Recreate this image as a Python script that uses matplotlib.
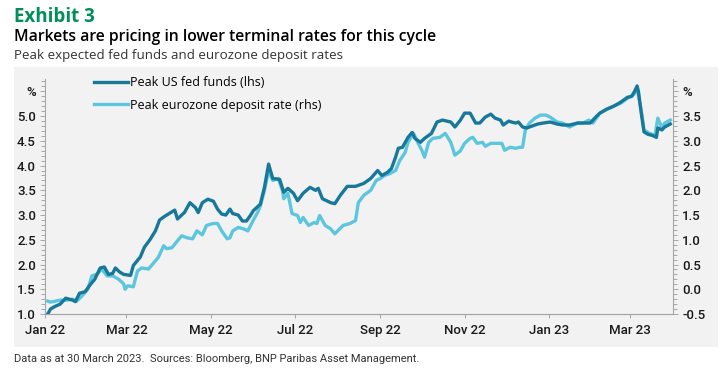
import matplotlib
matplotlib.use("Agg")
import matplotlib.pyplot as plt
import matplotlib.dates as mdates
from matplotlib.patches import Rectangle
from matplotlib.ticker import MultipleLocator, FixedLocator
import pandas as pd

# Peak US fed funds (lhs, %)
fed_dates = [
    "2022-01-03", "2022-01-05", "2022-01-08", "2022-01-12", "2022-01-16", "2022-01-21",
    "2022-01-23", "2022-01-26", "2022-01-30", "2022-02-03", "2022-02-06", "2022-02-10",
    "2022-02-13", "2022-02-16", "2022-02-19", "2022-02-21", "2022-02-24", "2022-02-27",
    "2022-03-04", "2022-03-06", "2022-03-11", "2022-03-14", "2022-03-18", "2022-03-22",
    "2022-03-25", "2022-03-29", "2022-04-02", "2022-04-05", "2022-04-07", "2022-04-10",
    "2022-04-12", "2022-04-16", "2022-04-20", "2022-04-22", "2022-04-25", "2022-04-29",
    "2022-05-03", "2022-05-06", "2022-05-09", "2022-05-12", "2022-05-15", "2022-05-17",
    "2022-05-21", "2022-05-24", "2022-05-27", "2022-05-30", "2022-06-01", "2022-06-06",
    "2022-06-09", "2022-06-12", "2022-06-15", "2022-06-20", "2022-06-23", "2022-06-26",
    "2022-06-30", "2022-07-03", "2022-07-07", "2022-07-12", "2022-07-16", "2022-07-18",
    "2022-07-21", "2022-07-27", "2022-07-30", "2022-08-03", "2022-08-08", "2022-08-14",
    "2022-08-20", "2022-08-25", "2022-08-30", "2022-09-02", "2022-09-06", "2022-09-09",
    "2022-09-12", "2022-09-14", "2022-09-17", "2022-09-21", "2022-09-24", "2022-09-26",
    "2022-09-30", "2022-10-03", "2022-10-08", "2022-10-12", "2022-10-16", "2022-10-22",
    "2022-10-25", "2022-10-29", "2022-11-01", "2022-11-05", "2022-11-09", "2022-11-12",
    "2022-11-16", "2022-11-20", "2022-11-23", "2022-11-27", "2022-11-29", "2022-12-03",
    "2022-12-05", "2022-12-08", "2022-12-10", "2022-12-13", "2022-12-16", "2022-12-20",
    "2022-12-24", "2022-12-28", "2023-01-02", "2023-01-07", "2023-01-11", "2023-01-16",
    "2023-01-22", "2023-01-26", "2023-01-31", "2023-02-04", "2023-02-07", "2023-02-12",
    "2023-02-17", "2023-02-22", "2023-02-27", "2023-03-02", "2023-03-04", "2023-03-06",
    "2023-03-07", "2023-03-09", "2023-03-11", "2023-03-14", "2023-03-17", "2023-03-20",
    "2023-03-21", "2023-03-24", "2023-03-26", "2023-03-30",
]
fed_values = [
    1.00, 1.10, 1.15, 1.20, 1.32, 1.28,
    1.25, 1.42, 1.45, 1.60, 1.70, 1.93,
    1.95, 1.80, 1.82, 1.93, 1.85, 1.80,
    1.78, 1.98, 2.15, 2.35, 2.50, 2.68,
    2.90, 2.98, 3.05, 3.10, 2.92, 3.00,
    3.05, 3.25, 3.15, 3.05, 3.25, 3.32,
    3.28, 3.12, 3.02, 3.00, 3.12, 3.03,
    3.00, 2.88, 2.88, 3.00, 3.09, 3.22,
    3.56, 4.03, 3.74, 3.72, 3.46, 3.54,
    3.44, 3.29, 3.44, 3.56, 3.50, 3.54,
    3.33, 3.25, 3.23, 3.40, 3.58, 3.58,
    3.64, 3.74, 3.90, 3.80, 3.86, 3.94,
    4.17, 4.35, 4.37, 4.57, 4.67, 4.55,
    4.47, 4.55, 4.65, 4.88, 4.92, 4.88,
    4.78, 4.92, 5.06, 5.06, 4.86, 4.86,
    4.98, 5.04, 4.96, 4.92, 4.82, 4.90,
    4.88, 4.86, 4.88, 4.78, 4.76, 4.80,
    4.84, 4.86, 4.88, 4.84, 4.82, 4.82,
    4.86, 4.86, 4.86, 4.98, 5.06, 5.14,
    5.20, 5.28, 5.38, 5.40, 5.49, 5.61,
    5.49, 5.06, 4.68, 4.63, 4.61, 4.57,
    4.76, 4.72, 4.78, 4.84,
]

# Peak eurozone deposit rate (rhs, %)
eur_dates = [
    "2022-01-03", "2022-01-05", "2022-01-12", "2022-01-17", "2022-01-21", "2022-01-24",
    "2022-01-28", "2022-02-01", "2022-02-04", "2022-02-08", "2022-02-11", "2022-02-15",
    "2022-02-19", "2022-02-23", "2022-02-27", "2022-02-28", "2022-03-02", "2022-03-06",
    "2022-03-09", "2022-03-12", "2022-03-17", "2022-03-20", "2022-03-24", "2022-03-28",
    "2022-03-30", "2022-04-03", "2022-04-07", "2022-04-10", "2022-04-14", "2022-04-18",
    "2022-04-21", "2022-04-25", "2022-04-28", "2022-05-03", "2022-05-06", "2022-05-09",
    "2022-05-13", "2022-05-15", "2022-05-17", "2022-05-21", "2022-05-25", "2022-05-28",
    "2022-06-01", "2022-06-04", "2022-06-06", "2022-06-09", "2022-06-12", "2022-06-15",
    "2022-06-19", "2022-06-22", "2022-06-23", "2022-06-26", "2022-06-29", "2022-07-03",
    "2022-07-05", "2022-07-07", "2022-07-11", "2022-07-15", "2022-07-17", "2022-07-19",
    "2022-07-23", "2022-07-27", "2022-07-30", "2022-08-01", "2022-08-05", "2022-08-10",
    "2022-08-14", "2022-08-16", "2022-08-20", "2022-08-25", "2022-08-29", "2022-09-01",
    "2022-09-04", "2022-09-08", "2022-09-12", "2022-09-15", "2022-09-19", "2022-09-21",
    "2022-09-25", "2022-09-28", "2022-10-01", "2022-10-03", "2022-10-06", "2022-10-09",
    "2022-10-14", "2022-10-18", "2022-10-22", "2022-10-25", "2022-10-29", "2022-11-01",
    "2022-11-05", "2022-11-07", "2022-11-10", "2022-11-14", "2022-11-16", "2022-11-20",
    "2022-11-24", "2022-11-28", "2022-11-30", "2022-12-04", "2022-12-08", "2022-12-11",
    "2022-12-13", "2022-12-15", "2022-12-18", "2022-12-22", "2022-12-26", "2022-12-30",
    "2023-01-02", "2023-01-07", "2023-01-11", "2023-01-16", "2023-01-22", "2023-01-26",
    "2023-01-30", "2023-02-02", "2023-02-07", "2023-02-12", "2023-02-17", "2023-02-22",
    "2023-02-27", "2023-03-03", "2023-03-06", "2023-03-09", "2023-03-11", "2023-03-15",
    "2023-03-19", "2023-03-21", "2023-03-24", "2023-03-26", "2023-03-30",
]
eur_values = [
    -0.24, -0.26, -0.22, -0.22, -0.20, -0.24,
    -0.13, 0.00, 0.27, 0.31, 0.41, 0.27,
    0.27, 0.21, 0.11, 0.00, 0.07, 0.05,
    0.37, 0.43, 0.41, 0.51, 0.64, 0.88,
    0.82, 0.84, 0.98, 1.08, 1.04, 1.02,
    1.18, 1.10, 1.29, 1.33, 1.33, 1.18,
    1.02, 1.04, 1.18, 1.25, 1.22, 1.18,
    1.40, 1.55, 1.68, 2.00, 2.40, 2.20,
    2.24, 2.00, 1.83, 1.94, 1.53, 1.49,
    1.35, 1.45, 1.29, 1.35, 1.33, 1.49,
    1.29, 1.22, 1.12, 1.18, 1.29, 1.33,
    1.39, 1.75, 1.90, 2.00, 2.20, 2.24,
    2.30, 2.34, 2.40, 2.60, 2.77, 2.97,
    3.15, 2.97, 2.81, 2.67, 2.97, 3.05,
    3.07, 3.15, 2.97, 2.71, 2.80, 2.95,
    3.05, 3.07, 2.95, 2.97, 2.89, 2.95,
    2.95, 2.95, 2.81, 2.87, 2.85, 2.87,
    2.87, 3.22, 3.36, 3.46, 3.52, 3.52,
    3.48, 3.38, 3.36, 3.28, 3.36, 3.36,
    3.42, 3.36, 3.56, 3.64, 3.70, 3.76,
    3.86, 3.92, 4.05, 3.62, 3.22, 3.15,
    3.11, 3.46, 3.26, 3.36, 3.42,
]

lhs_ticks = [1.0, 1.5, 2.0, 2.5, 3.0, 3.5, 4.0, 4.5, 5.0, 5.5]
lhs_labels = ["1.0", "1.5", "2.0", "2.5", "3.0", "3.5", "4.0", "4.5", "5.0", "%"]
rhs_ticks = [-0.5, 0.0, 0.5, 1.0, 1.5, 2.0, 2.5, 3.0, 3.5, 4.0]
rhs_labels = ["-0.5", "0.0", "0.5", "1.0", "1.5", "2.0", "2.5", "3.0", "3.5", "%"]

FED_COLOR = "#17789a"
EUR_COLOR = "#5cc6de"
GREEN = "#008f5a"
PANEL = "#f2f2f2"
SPINE = "#a6a6a6"
TICK_FONT = ["Roboto", "DejaVu Sans"]

fed = pd.Series(fed_values, index=pd.to_datetime(fed_dates))
eur = pd.Series(eur_values, index=pd.to_datetime(eur_dates))

fig = plt.figure(figsize=(7.25, 3.78), dpi=100)
fig.patches.append(
    Rectangle((14 / 725, 1 - 347 / 378), 704 / 725, 280 / 378,
              transform=fig.transFigure, facecolor=PANEL, edgecolor="none", zorder=-10)
)

fig.text(14 / 725, 1 - 17 / 378, "Exhibit 3", color=GREEN, fontsize=13.5,
         fontweight="bold", family="Open Sans", va="center")
fig.text(14 / 725, 1 - 37 / 378, "Markets are pricing in lower terminal rates for this cycle",
         color="black", fontsize=11.3, fontweight="semibold", family="Open Sans", va="center")
fig.text(14 / 725, 1 - 56 / 378, "Peak expected fed funds and eurozone deposit rates",
         color="#333333", fontsize=9.6, family="Open Sans", va="center")
fig.text(14 / 725, 1 - 359 / 378,
         "Data as at 30 March 2023.  Sources: Bloomberg, BNP Paribas Asset Management.",
         color="#333333", fontsize=8, family=TICK_FONT, va="center")

ax = fig.add_axes([45 / 725, 1 - 314 / 378, 628 / 725, 235 / 378])
ax.set_facecolor("none")
ax2 = ax.twinx()

ax.plot(fed.index, fed.values, color=FED_COLOR, linewidth=2.4,
        label="Peak US fed funds (lhs)", zorder=3)
ax2.plot(eur.index, eur.values, color=EUR_COLOR, linewidth=2.4,
         label="Peak eurozone deposit rate (rhs)", zorder=2)
ax.set_zorder(ax2.get_zorder() + 1)
ax.patch.set_visible(False)
ax2.patch.set_visible(False)

ax.set_xlim(pd.Timestamp("2022-01-01"), pd.Timestamp("2023-04-01"))
ax.set_ylim(1.0, 5.75)
ax2.set_ylim(-0.5, 4.25)

ax.xaxis.set_major_locator(mdates.MonthLocator(bymonth=[1, 3, 5, 7, 9, 11]))
ax.xaxis.set_major_formatter(mdates.DateFormatter("%b %y"))

ax.yaxis.set_major_locator(FixedLocator(lhs_ticks))
ax.set_yticklabels(lhs_labels)
ax.yaxis.set_minor_locator(MultipleLocator(0.1))
ax2.yaxis.set_major_locator(FixedLocator(rhs_ticks))
ax2.set_yticklabels(rhs_labels)
ax2.yaxis.set_minor_locator(MultipleLocator(0.1))

for a in (ax, ax2):
    a.spines["top"].set_visible(False)
    for side in ("left", "right", "bottom"):
        a.spines[side].set_color(SPINE)
        a.spines[side].set_linewidth(0.8)
    a.tick_params(axis="both", which="both", direction="out", color=SPINE,
                  labelcolor="#1a1a1a", labelsize=9.5, width=0.7)
    a.tick_params(axis="y", which="major", length=3.5, pad=3)
    a.tick_params(axis="y", which="minor", length=3)
    a.tick_params(axis="x", which="major", length=3, pad=4)
    for lbl in a.get_xticklabels() + a.get_yticklabels():
        lbl.set_family(TICK_FONT)
        lbl.set_fontweight("medium")
ax2.spines["left"].set_visible(False)
ax.spines["right"].set_visible(False)

h1, l1 = ax.get_legend_handles_labels()
h2, l2 = ax2.get_legend_handles_labels()
leg = ax.legend(h1 + h2, l1 + l2, loc="upper left", bbox_to_anchor=(0.06, 1.06),
                frameon=False, handlelength=2.7, handletextpad=0.2, labelspacing=0.75,
                prop={"family": "Open Sans", "size": 9})

fig.savefig("out.png", dpi=100)
